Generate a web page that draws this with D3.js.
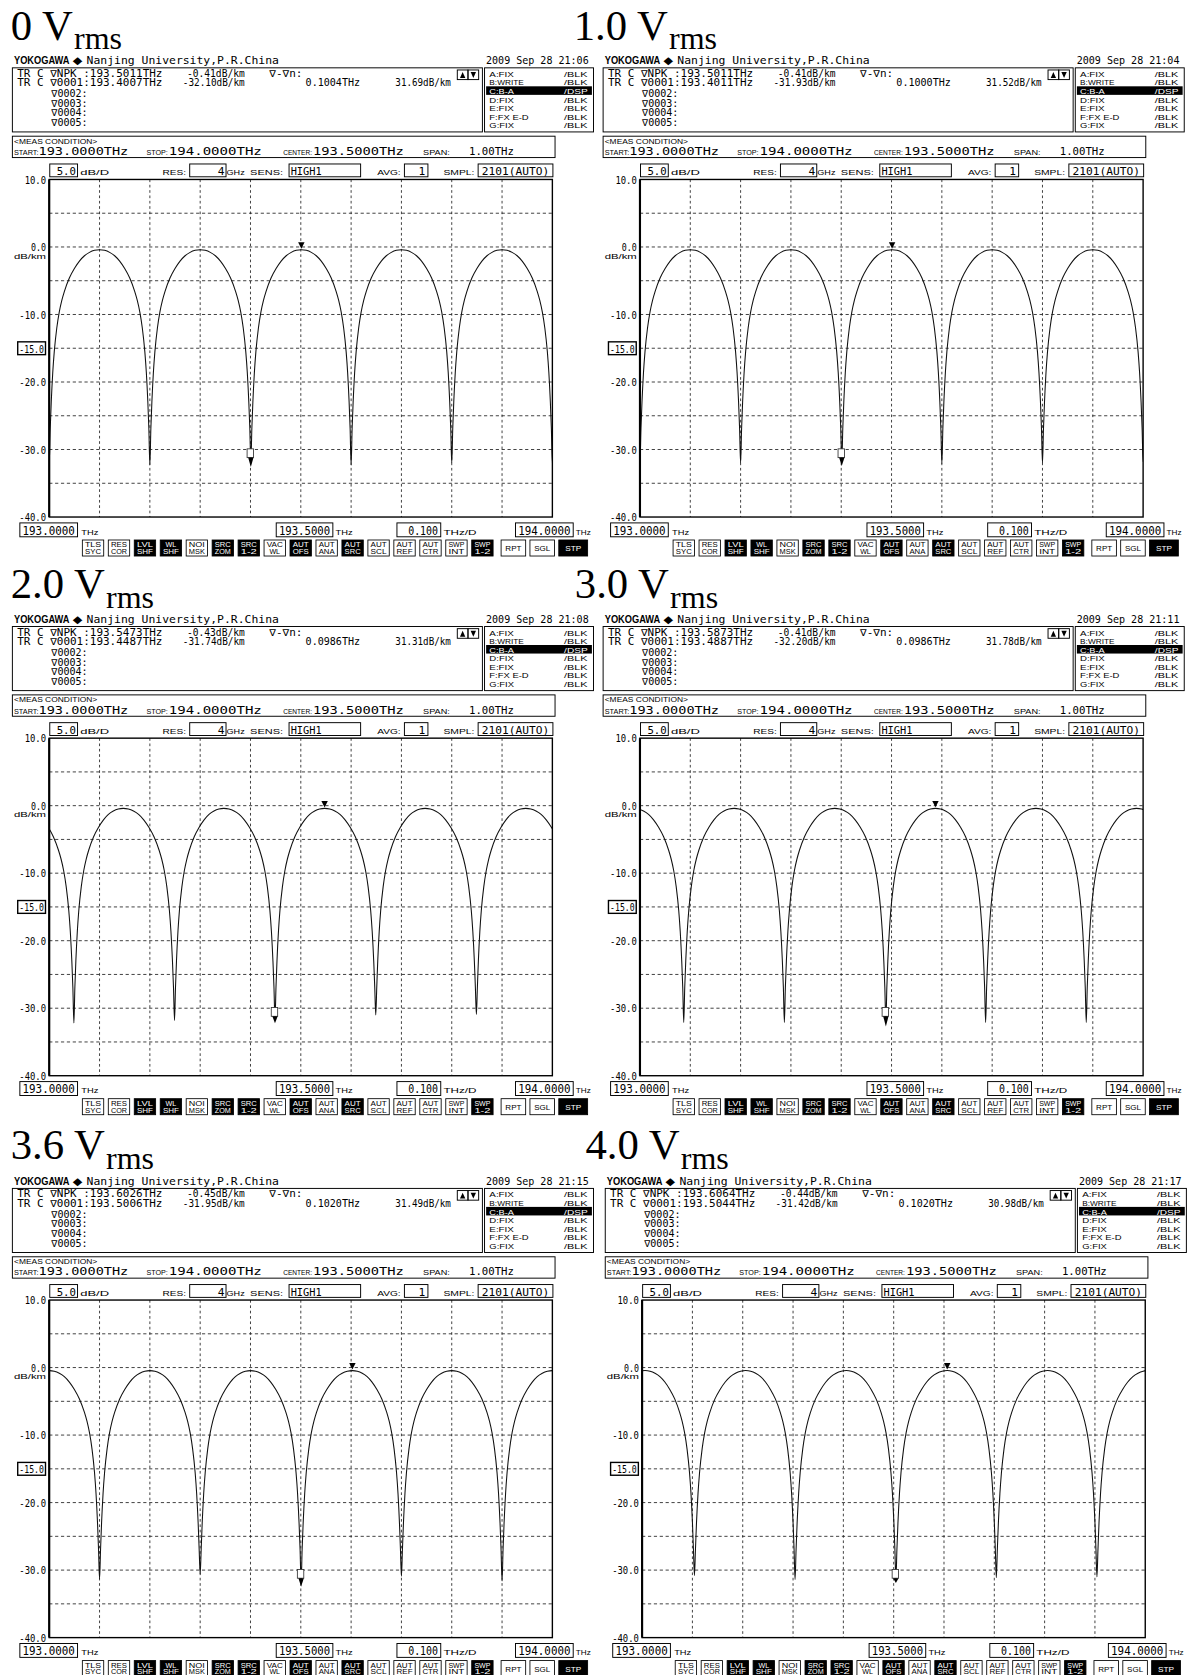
<!DOCTYPE html>
<html><head><meta charset="utf-8">
<script src="https://cdn.jsdelivr.net/npm/d3@7"></script>
<style>html,body{margin:0;padding:0;background:#fff;}svg{display:block}</style>
</head><body><div id="chart"></div>
<script>
// ---------------- DATA ----------------
const voltages   = ["0", "1.0", "2.0", "3.0", "3.6", "4.0"];
const timeStamps = ["21:06", "21:04", "21:08", "21:11", "21:15", "21:17"];
const npkFreq    = [193.5011, 193.5011, 193.5473, 193.5873, 193.6026, 193.6064];
const npkLevel   = [-0.41, -0.41, -0.43, -0.41, -0.45, -0.44];
const m1Freq     = [193.4007, 193.4011, 193.4487, 193.4887, 193.5006, 193.5044];
const m1Level    = [-32.10, -31.93, -31.74, -32.20, -31.95, -31.42];
const deltaFreq  = [0.1004, 0.1000, 0.0986, 0.0986, 0.1020, 0.1020];
const deltaLevel = [31.69, 31.52, 31.31, 31.78, 31.49, 30.98];

// peak (maximum) frequencies of each lobe, per panel (THz)
const peakFreqs = [
  [192.9, 193.1, 193.3, 193.5011, 193.7, 193.9, 194.1],
  [192.9, 193.1, 193.3, 193.5011, 193.7, 193.9, 194.1],
  [192.947, 193.147, 193.347, 193.5473, 193.747, 193.947, 194.147],
  [192.987, 193.187, 193.387, 193.5873, 193.787, 193.987, 194.187],
  [193.0, 193.2, 193.4, 193.6026, 193.8, 194.0],
  [193.006, 193.206, 193.406, 193.6064, 193.806, 194.006]
];
// dip (minimum) frequencies and levels, per panel
const dipFreqs = [
  [193.0, 193.2, 193.4007, 193.6, 193.8, 194.0],
  [193.0, 193.2, 193.4011, 193.6, 193.8, 194.0],
  [193.049, 193.249, 193.4487, 193.649, 193.849, 194.049],
  [193.087, 193.287, 193.4887, 193.687, 193.887, 194.087],
  [192.9, 193.1, 193.3, 193.5006, 193.7, 193.9, 194.1],
  [192.906, 193.104, 193.304, 193.5044, 193.704, 193.904, 194.106]
];
const dipLevels = [
  [-32.0, -32.3, -32.10, -32.3, -32.0, -32.0],
  [-31.8, -32.0, -31.93, -32.1, -32.0, -31.8],
  [-32.2, -31.8, -31.74, -31.0, -30.9, -31.0],
  [-32.1, -32.1, -32.20, -32.1, -32.1, -32.0],
  [-31.0, -31.3, -30.6, -31.95, -30.9, -31.6, -31.0],
  [-31.0, -30.8, -31.4, -31.42, -31.1, -31.0, -31.0]
];
const peakLevel = [-0.4, -0.4, -0.4, -0.4, -0.45, -0.44];
// lobe profile: fraction of peak->dip distance vs. drop from peak (dB)
const lobeFrac = [0, 0.1, 0.2, 0.3, 0.4, 0.5, 0.6, 0.7, 0.75, 0.8, 0.85, 0.9, 0.93, 0.96, 0.98];
const lobeDrop = [0, -0.1, -0.4, -0.9, -1.7, -2.8, -4.2, -6.2, -7.5, -9.2, -11.6, -15.1, -18.2, -22.6, -26.5];

const xStart = 193.0, xStop = 194.0, xCenter = 193.5, xPerDiv = 0.1;
const yTop = 10, yBottom = -40, yPerDiv = 5, yRef = -15;
const yLabelValues = [10, 0, -10, -20, -30, -40];
const traceList = [["A:FIX","/BLK"],["B:WRITE","/BLK"],["C:B-A","/DSP"],["D:FIX","/BLK"],["E:FIX","/BLK"],["F:FX E-D","/BLK"],["G:FIX","/BLK"]];
const buttons = [["TLS","SYC",0],["RES","COR",0],["LVL","SHF",1],["WL","SHF",1],["NOI","MSK",0],["SRC","ZOM",1],["SRC","1-2",1],["VAC","WL",0],["AUT","OFS",1],["AUT","ANA",0],["AUT","SRC",1],["AUT","SCL",0],["AUT","REF",0],["AUT","CTR",0],["SWP","INT",0],["SWP","1-2",1]];
const sideButtons = [["RPT",0],["SGL",0],["STP",1]];

// ---------------- LAYOUT ----------------
const W = 1111, H = 1568;
const panelX = [0, 553, 0, 553, 0, 555];
const panelY = [0, 0, 523, 523, 1049, 1049];
const titleX = [10, 537, 10, 538, 10, 548];
const titleY = [37, 37, 560, 560, 1085, 1085];

const MONO = "'DejaVu Sans Mono','Liberation Mono',monospace";
const SANS = "'Liberation Sans','DejaVu Sans',sans-serif";
const SERIF = "'Liberation Serif','Times New Roman',serif";

const svg = d3.select("#chart").append("svg")
  .attr("width", 1187).attr("height", 1675)
  .attr("viewBox", `0 0 ${W} ${H}`);
svg.append("rect").attr("width", W).attr("height", H).attr("fill", "#fff");

function tx(g, x, y, s, o = {}) {
  const el = g.append("text").attr("x", x).attr("y", y).text(s)
    .attr("font-family", o.ff || MONO).attr("font-size", o.fs || 8)
    .attr("fill", o.fill || "#000");
  if (o.w) el.attr("textLength", o.w).attr("lengthAdjust", "spacingAndGlyphs");
  if (o.anchor) el.attr("text-anchor", o.anchor);
  if (o.fw) el.attr("font-weight", o.fw);
  return el;
}
function box(g, x, y, w, h, o = {}) {
  return g.append("rect").attr("x", x).attr("y", y).attr("width", w).attr("height", h)
    .attr("fill", o.fill || "none").attr("stroke", "#000").attr("stroke-width", o.sw || 0.9);
}

const x = d3.scaleLinear().domain([xStart, xStop]).range([46, 517]);
const y = d3.scaleLinear().domain([yBottom, yTop]).range([484, 168]);

function curvePoints(i) {
  const ext = [];
  peakFreqs[i].forEach(f => ext.push({f, L: peakLevel[i], p: true}));
  dipFreqs[i].forEach((f, k) => ext.push({f, L: dipLevels[i][k], p: false}));
  ext.sort((a, b) => a.f - b.f);
  const pts = [];
  for (let k = 0; k < ext.length - 1; k++) {
    const a = ext[k], b = ext[k + 1];
    if (a.p && !b.p) {
      lobeFrac.forEach((fr, j) => pts.push([a.f + (b.f - a.f) * fr, a.L + lobeDrop[j]]));
    } else if (!a.p && b.p) {
      pts.push([a.f, a.L]);
      for (let j = lobeFrac.length - 1; j >= 1; j--)
        pts.push([b.f - (b.f - a.f) * lobeFrac[j], b.L + lobeDrop[j]]);
    }
  }
  const last = ext[ext.length - 1];
  pts.push([last.f, last.L]);
  return pts;
}

function drawPanel(i) {
  // title
  const tt = svg.append("text").attr("x", titleX[i]).attr("y", titleY[i])
    .attr("font-family", SERIF).attr("font-size", 40).attr("fill", "#000");
  tt.append("tspan").text(voltages[i] + " V");
  tt.append("tspan").attr("font-size", 30).attr("dy", 9).attr("dx", 1).text("rms");

  const g = svg.append("g").attr("transform", `translate(${panelX[i]},${panelY[i]})`);

  // header
  tx(g, 13, 60, "YOKOGAWA", {ff: SANS, fs: 9.5, fw: "bold", w: 52});
  tx(g, 68, 60, "◆", {ff: SANS, fs: 10, w: 9});
  tx(g, 81, 60, "Nanjing University,P.R.China", {fs: 10.5, w: 180});
  tx(g, 551, 60, `2009 Sep 28 ${timeStamps[i]}`, {fs: 9.4, anchor: "end"});

  // marker box
  box(g, 11.5, 63.5, 440, 60);
  const l1 = 72, l2 = 80.5;
  tx(g, 16, l1, `TR C ∇NPK :${npkFreq[i].toFixed(4)}THz`, {fs: 9, w: 136});
  tx(g, 229, l1, `${npkLevel[i].toFixed(2)}dB/km`, {fs: 9, w: 54, anchor: "end"});
  tx(g, 252, l1, "∇-∇n:", {fs: 9, w: 31});
  tx(g, 16, l2, `TR C ∇0001:${m1Freq[i].toFixed(4)}THz`, {fs: 9, w: 136});
  tx(g, 229, l2, `${m1Level[i].toFixed(2)}dB/km`, {fs: 9, w: 58, anchor: "end"});
  tx(g, 337, l2, `${deltaFreq[i].toFixed(4)}THz`, {fs: 9, w: 51, anchor: "end"});
  tx(g, 422, l2, `${deltaLevel[i].toFixed(2)}dB/km`, {fs: 9, w: 52, anchor: "end"});
  ["∇0002:", "∇0003:", "∇0004:", "∇0005:"].forEach((s, k) =>
    tx(g, 48, 91 + k * 9, s, {fs: 9, w: 34}));
  box(g, 428, 65.5, 10, 9); box(g, 438, 65.5, 10, 9);
  g.append("path").attr("d", "M430.5,73 L435.5,73 L433,67.5 Z").attr("fill", "#000");
  g.append("path").attr("d", "M440.5,67.5 L445.5,67.5 L443,73 Z").attr("fill", "#000");

  // trace box
  box(g, 453.5, 63.5, 102, 60);
  traceList.forEach((d, k) => {
    const cy = 69 + k * 8.0;
    const hl = d[1] === "/DSP";
    if (hl) g.append("rect").attr("x", 455).attr("y", cy - 4.2).attr("width", 99).attr("height", 8).attr("fill", "#000");
    tx(g, 458, cy + 3, d[0], {ff: SANS, fs: 7.5, fill: hl ? "#fff" : "#000", w: d[0].length * 4.6});
    tx(g, 550, cy + 3, d[1], {ff: SANS, fs: 7.5, fill: hl ? "#fff" : "#000", anchor: "end", w: 22});
  });

  // meas condition
  box(g, 11.5, 127.5, 508, 20);
  tx(g, 13, 134.5, "<MEAS CONDITION>", {ff: SANS, fs: 6.5, w: 78});
  tx(g, 13, 145, "START:", {ff: SANS, fs: 7, w: 23});
  tx(g, 36, 145, `${xStart.toFixed(4)}THz`, {fs: 10.5, w: 84});
  tx(g, 137, 145, "STOP:", {ff: SANS, fs: 7, w: 20});
  tx(g, 158, 145, `${xStop.toFixed(4)}THz`, {fs: 10.5, w: 87});
  tx(g, 265, 145, "CENTER:", {ff: SANS, fs: 7, w: 27});
  tx(g, 293, 145, `${xCenter.toFixed(4)}THz`, {fs: 10.5, w: 85});
  tx(g, 396, 145, "SPAN:", {ff: SANS, fs: 7, w: 25});
  tx(g, 439, 145, `${(xStop - xStart).toFixed(2)}THz`, {fs: 10.5, w: 42});

  // settings row
  const sb = 164;
  box(g, 46.5, 153.5, 26, 12); tx(g, 71, sb, yPerDiv.toFixed(1), {fs: 10.5, w: 18, anchor: "end"});
  tx(g, 75, sb, "dB/D", {ff: SANS, fs: 7, w: 27});
  tx(g, 152, sb, "RES:", {ff: SANS, fs: 7, w: 22});
  box(g, 177.5, 153.5, 34, 12); tx(g, 210, sb, "4", {fs: 10.5, anchor: "end"});
  tx(g, 212, sb, "GHz", {ff: SANS, fs: 7, w: 17});
  tx(g, 234, sb, "SENS:", {ff: SANS, fs: 7, w: 31});
  box(g, 270.5, 153.5, 67, 12); tx(g, 272, sb, "HIGH1", {fs: 10.5, w: 29});
  tx(g, 353, sb, "AVG:", {ff: SANS, fs: 7, w: 22});
  box(g, 378.5, 153.5, 22, 12); tx(g, 398, sb, "1", {fs: 10.5, anchor: "end"});
  tx(g, 415, sb, "SMPL:", {ff: SANS, fs: 7, w: 29});
  box(g, 447.5, 153.5, 70, 12); tx(g, 451, sb, "2101(AUTO)", {fs: 10.5, w: 63});

  // plot grid
  const xt = d3.range(1, 10).map(k => xStart + k * xPerDiv);
  const yt = d3.range(1, 10).map(k => yBottom + k * yPerDiv);
  g.append("g").selectAll("line").data(xt).join("line")
    .attr("x1", d => x(d)).attr("x2", d => x(d)).attr("y1", y(yTop)).attr("y2", y(yBottom))
    .attr("stroke", "#222").attr("stroke-width", 0.8).attr("stroke-dasharray", "2.5,2.5");
  g.append("g").selectAll("line").data(yt).join("line")
    .attr("x1", x(xStart)).attr("x2", x(xStop)).attr("y1", d => y(d)).attr("y2", d => y(d))
    .attr("stroke", "#222").attr("stroke-width", 0.8).attr("stroke-dasharray", "3,2.5");

  // trace
  const cid = "clip" + i;
  g.append("clipPath").attr("id", cid).append("rect")
    .attr("x", x(xStart)).attr("y", y(yTop)).attr("width", x(xStop) - x(xStart)).attr("height", y(yBottom) - y(yTop));
  const line = d3.line().x(d => x(d[0])).y(d => y(d[1])).curve(d3.curveMonotoneX);
  g.append("path").attr("clip-path", `url(#${cid})`).attr("d", line(curvePoints(i)))
    .attr("fill", "none").attr("stroke", "#111").attr("stroke-width", 1);

  // frame
  g.append("rect").attr("x", x(xStart)).attr("y", y(yTop)).attr("width", x(xStop) - x(xStart))
    .attr("height", y(yBottom) - y(yTop)).attr("fill", "none").attr("stroke", "#000").attr("stroke-width", 1.3);
  g.append("line").attr("x1", x(xStart)).attr("x2", x(xStart)).attr("y1", y(yTop)).attr("y2", y(yBottom))
    .attr("stroke", "#000").attr("stroke-width", 2);

  // markers
  const px = x(npkFreq[i]), py = y(npkLevel[i]) - 1;
  g.append("path").attr("d", `M${px - 3},${py - 6} L${px + 3},${py - 6} L${px},${py} Z`).attr("fill", "#000");
  const mx = x(m1Freq[i]);
  g.append("rect").attr("x", mx - 3.5).attr("y", y(-29.9)).attr("width", 6).attr("height", y(-31.2) - y(-29.9))
    .attr("fill", "#fff").attr("stroke", "#333").attr("stroke-width", 0.8);
  g.append("path").attr("d", `M${mx - 2.5},${y(-31.2)} L${mx + 2.5},${y(-31.2)} L${mx},${y(m1Level[i] - 0.5)} Z`).attr("fill", "#000");

  // y labels
  yLabelValues.forEach(v => {
    tx(g, 43, y(v) + 4, v.toFixed(1), {fs: 9.5, w: v < 0 ? 25 : (v === 0 ? 14 : 20), anchor: "end"});
  });
  tx(g, 43, y(0) + 11, "dB/km", {ff: SANS, fs: 7, w: 30, anchor: "end"});
  box(g, 16.5, y(yRef) - 6, 26, 12, {sw: 1.3});
  tx(g, 41, y(yRef) + 4, yRef.toFixed(1), {fs: 9.5, w: 23, anchor: "end"});

  // bottom labels
  const bb = 500.5;
  box(g, 18.5, 489.5, 54, 13); tx(g, 21, bb, xStart.toFixed(4), {fs: 11.5, w: 49});
  tx(g, 76, bb, "THz", {ff: SANS, fs: 7, w: 16});
  box(g, 258.5, 489.5, 53, 13); tx(g, 261, bb, xCenter.toFixed(4), {fs: 11.5, w: 48});
  tx(g, 314, bb, "THz", {ff: SANS, fs: 7, w: 16});
  box(g, 371.5, 489.5, 41, 13); tx(g, 410, bb, xPerDiv.toFixed(3), {fs: 11.5, w: 28, anchor: "end"});
  tx(g, 415, bb, "THz/D", {ff: SANS, fs: 7, w: 31});
  box(g, 482.5, 489.5, 54, 13); tx(g, 485, bb, xStop.toFixed(4), {fs: 11.5, w: 49});
  tx(g, 539, bb, "THz", {ff: SANS, fs: 7, w: 14});

  // buttons
  buttons.forEach((b, k) => {
    const bx = 77 + k * 24.3;
    g.append("rect").attr("x", bx).attr("y", 505.5).attr("width", 20).attr("height", 15)
      .attr("fill", b[2] ? "#000" : "#fff").attr("stroke", "#000").attr("stroke-width", 0.8);
    const c = b[2] ? "#fff" : "#000";
    tx(g, bx + 10, 512, b[0], {ff: SANS, fs: 6.5, fill: c, anchor: "middle", w: b[0].length * 5});
    tx(g, bx + 10, 518.5, b[1], {ff: SANS, fs: 6.5, fill: c, anchor: "middle", w: b[1].length * 5});
  });
  const sx = [469, 496, 523], sw = [23, 23, 27];
  sideButtons.forEach((b, k) => {
    g.append("rect").attr("x", sx[k]).attr("y", 505.5).attr("width", sw[k]).attr("height", 15)
      .attr("fill", b[1] ? "#000" : "#fff").attr("stroke", "#000").attr("stroke-width", 0.8);
    tx(g, sx[k] + sw[k] / 2, 516, b[0], {ff: SANS, fs: 7, fill: b[1] ? "#fff" : "#000", anchor: "middle", w: 15});
  });
}

voltages.forEach((v, i) => drawPanel(i));
</script>
</body></html>
